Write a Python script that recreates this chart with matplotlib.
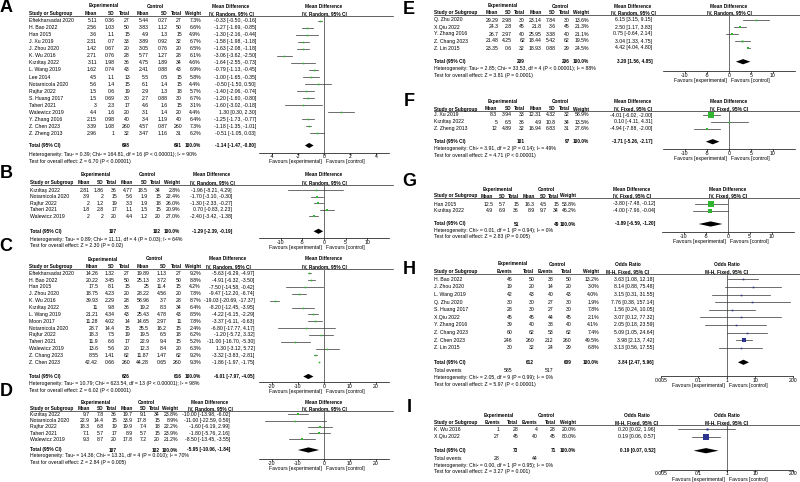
import matplotlib
matplotlib.use("Agg")
import matplotlib.pyplot as plt
from matplotlib.lines import Line2D
from matplotlib.patches import Polygon

# ---- data: (study, exp mean, exp sd, exp n, ctl mean, ctl sd, ctl n, weight %, est, lo, hi)
A_rows = [
    ("Eftekharsadat 2020", 5.11, 0.36, 27, 5.44, 0.27, 27, 7.3, -0.33, -0.50, -0.16),
    ("H. Bao 2022", 2.56, 1.03, 50, 3.83, 1.12, 50, 6.6, -1.27, -1.69, -0.85),
    ("Han 2015", 3.6, 1.1, 15, 4.9, 1.3, 15, 4.9, -1.30, -2.16, -0.44),
    ("J. Xu 2019", 2.31, 0.7, 33, 3.89, 0.92, 32, 6.7, -1.58, -1.98, -1.18),
    ("J. Zhou 2020", 1.42, 0.67, 20, 3.05, 0.76, 20, 6.5, -1.63, -2.08, -1.18),
    ("K. Wu 2016", 2.71, 0.76, 28, 5.77, 1.27, 28, 6.1, -3.06, -3.62, -2.50),
    ("Kızıltaş 2022", 3.11, 1.98, 36, 4.75, 1.89, 34, 4.6, -1.64, -2.55, -0.73),
    ("L. Wang 2019", 1.62, 0.74, 43, 2.41, 0.88, 43, 6.9, -0.79, -1.13, -0.45),
    ("Lee 2014", 4.5, 1.1, 13, 5.5, 0.5, 15, 5.8, -1.00, -1.65, -0.35),
    ("Notarnicola 2020", 5.6, 1.4, 15, 6.1, 1.4, 15, 4.4, -0.50, -1.50, 0.50),
    ("Rajfur 2022", 1.5, 0.6, 19, 2.9, 1.3, 18, 5.7, -1.40, -2.06, -0.74),
    ("S. Huang 2017", 1.5, 0.69, 30, 2.7, 0.88, 30, 6.7, -1.20, -1.60, -0.80),
    ("Taheri 2021", 3, 2.3, 17, 4.6, 1.6, 15, 3.1, -1.60, -3.02, -0.18),
    ("Walewicz 2019", 4.4, 1.6, 20, 3.1, 1.4, 20, 4.4, 1.30, 0.30, 2.30),
    ("Y. Zhang 2016", 2.15, 0.98, 40, 3.4, 1.19, 40, 6.4, -1.25, -1.73, -0.77),
    ("Z. Chen 2023", 3.39, 1.08, 260, 4.57, 0.87, 260, 7.3, -1.18, -1.35, -1.01),
    ("Z. Zheng 2013", 2.96, 1, 32, 3.47, 1.16, 31, 6.2, -0.51, -1.05, 0.03),
]
A_total = (698, 691, -1.14, -1.47, -0.80)
A_het = "Heterogeneity: Tau² = 0.39; Chi² = 164.81, df = 16 (P < 0.00001); I² = 90%"
A_test = "Test for overall effect: Z = 6.70 (P < 0.00001)"

B_rows = [
    ("Kızıltaş 2022", 2.81, 1.86, 36, 4.77, 18.5, 34, 2.8, -1.96, -8.21, 4.29),
    ("Notarnicola 2020", 3.9, 2, 15, 5.6, 1.9, 15, 22.4, -1.70, -3.10, -0.30),
    ("Rajfur 2022", 2, 1.2, 19, 3.3, 1.9, 18, 26.0, -1.30, -2.33, -0.27),
    ("Taheri 2021", 1.8, 2.8, 17, 1.1, 1.5, 15, 20.9, 0.70, -0.83, 2.23),
    ("Walewicz 2019", 2, 2, 20, 4.4, 1.2, 20, 27.0, -2.40, -3.42, -1.38),
]
B_total = (107, 102, -1.29, -2.39, -0.19)
B_het = "Heterogeneity: Tau² = 0.89; Chi² = 11.11, df = 4 (P = 0.03); I² = 64%"
B_test = "Test for overall effect: Z = 2.30 (P = 0.02)"

C_rows = [
    ("Eftekharsadat 2020", 14.26, 1.32, 27, 19.89, 1.13, 27, 9.2, -5.63, -6.29, -4.97),
    ("H. Bao 2022", 20.22, 3.45, 50, 25.13, 3.72, 50, 8.8, -4.91, -6.32, -3.50),
    ("Han 2015", 17.5, 8.1, 15, 25, 11.4, 15, 4.2, -7.50, -14.58, -0.42),
    ("J. Zhou 2020", 18.75, 4.23, 20, 28.22, 4.56, 20, 7.8, -9.47, -12.20, -6.74),
    ("K. Wu 2016", 39.93, 2.29, 28, 58.96, 3.7, 28, 8.7, -19.03, -20.69, -17.37),
    ("Kızıltaş 2022", 11, 9.8, 36, 19.2, 8.3, 34, 6.4, -8.20, -12.45, -3.95),
    ("L. Wang 2019", 21.21, 4.34, 43, 25.43, 4.78, 43, 8.5, -4.22, -6.15, -2.29),
    ("Moon 2017", 11.28, 4.02, 14, 14.65, 2.97, 11, 7.8, -3.37, -6.11, -0.63),
    ("Notarnicola 2020", 28.7, 14.4, 15, 35.5, 16.2, 15, 2.4, -6.80, -17.77, 4.17),
    ("Rajfur 2022", 18.3, 7.5, 19, 19.5, 6.5, 18, 6.2, -1.20, -5.72, 3.32),
    ("Taheri 2021", 11.9, 6.6, 17, 22.9, 9.4, 15, 5.2, -11.00, -16.70, -5.30),
    ("Walewicz 2019", 13.6, 5.6, 20, 12.3, 8.4, 20, 6.3, 1.30, -3.12, 5.72),
    ("Z. Chang 2023", 8.55, 1.41, 62, 11.87, 1.47, 62, 9.2, -3.32, -3.83, -2.81),
    ("Z. Chen 2023", 42.42, 0.66, 260, 44.28, 0.65, 260, 9.3, -1.86, -1.97, -1.75),
]
C_total = (626, 616, -6.01, -7.97, -4.05)
C_het = "Heterogeneity: Tau² = 10.79; Chi² = 623.54, df = 13 (P < 0.00001); I² = 98%"
C_test = "Test for overall effect: Z = 6.02 (P < 0.00001)"

D_rows = [
    ("Kızıltaş 2022", 9.7, 7.8, 36, 19.7, 9.1, 34, 23.8, -10.00, -13.98, -6.02),
    ("Notarnicola 2020", 22.9, 14.4, 15, 33.9, 17.8, 15, 8.9, -11.00, -22.59, 0.59),
    ("Rajfur 2022", 18.3, 6.8, 19, 19.9, 7.4, 18, 22.2, -1.60, -6.19, 2.99),
    ("Taheri 2021", 7.1, 5.7, 17, 8.9, 5.7, 15, 23.9, -1.80, -5.76, 2.16),
    ("Walewicz 2019", 9.3, 8.7, 20, 17.8, 7.2, 20, 21.2, -8.50, -13.45, -3.55),
]
D_total = (107, 102, -5.95, -10.06, -1.84)
D_het = "Heterogeneity: Tau² = 14.36; Chi² = 13.31, df = 4 (P = 0.010); I² = 70%"
D_test = "Test for overall effect: Z = 2.84 (P = 0.005)"

E_rows = [
    ("Q. Zhu 2020", 29.29, 2.98, 30, 23.14, 7.84, 30, 13.6, 6.15, 3.15, 9.15),
    ("X.Qiu 2022", 24.3, 2.8, 45, 21.8, 3.6, 45, 21.3, 2.50, 1.17, 3.83),
    ("Y. Zhang 2016", 26.7, 2.97, 40, 25.95, 3.38, 40, 21.1, 0.75, -0.64, 2.14),
    ("Z. Chang 2023", 21.48, 4.25, 62, 18.44, 5.42, 62, 19.5, 3.04, 1.33, 4.75),
    ("Z. Lin 2015", 23.35, 0.6, 32, 18.93, 0.88, 29, 24.5, 4.42, 4.04, 4.80),
]
E_total = (209, 206, 3.20, 1.56, 4.85)
E_het = "Heterogeneity: Tau² = 2.85; Chi² = 33.53, df = 4 (P < 0.00001); I² = 88%"
E_test = "Test for overall effect: Z = 3.81 (P = 0.0001)"

F_rows = [
    ("J. Xu 2019", 8.3, 3.94, 33, 12.31, 4.32, 32, 58.9, -4.01, -6.02, -2.00),
    ("Kızıltaş 2022", 5, 6.5, 36, 4.9, 10.8, 34, 13.5, 0.10, -4.11, 4.31),
    ("Z. Zheng 2013", 12, 4.89, 32, 16.94, 6.83, 31, 27.6, -4.94, -7.88, -2.00),
]
F_total = (101, 97, -3.71, -5.26, -2.17)
F_het = "Heterogeneity: Chi² = 3.91, df = 2 (P = 0.14); I² = 49%"
F_test = "Test for overall effect: Z = 4.71 (P < 0.00001)"

G_rows = [
    ("Han 2015", 12.5, 5.7, 15, 16.3, 4.5, 15, 53.8, -3.80, -7.48, -0.12),
    ("Kızıltaş 2022", 4.9, 6.9, 36, 8.9, 9.7, 34, 46.2, -4.00, -7.96, -0.04),
]
G_total = (51, 49, -3.89, -6.59, -1.20)
G_het = "Heterogeneity: Chi² = 0.01, df = 1 (P = 0.94); I² = 0%"
G_test = "Test for overall effect: Z = 2.83 (P = 0.005)"

# (study, exp events, exp n, ctl events, ctl n, weight %, OR, lo, hi)
H_rows = [
    ("H. Bao 2022", 46, 50, 38, 50, 13.2, 3.63, 1.08, 12.18),
    ("J. Zhou 2020", 19, 20, 14, 20, 3.0, 8.14, 0.88, 75.48),
    ("L. Wang 2019", 42, 43, 40, 43, 4.0, 3.15, 0.31, 31.55),
    ("Q. Zhu 2020", 30, 30, 27, 30, 1.9, 7.76, 0.38, 157.14),
    ("S. Huang 2017", 28, 30, 27, 30, 7.8, 1.56, 0.24, 10.05),
    ("X.Qiu 2022", 45, 45, 44, 45, 2.1, 3.07, 0.12, 77.32),
    ("Y. Zhang 2016", 39, 40, 38, 40, 4.1, 2.05, 0.18, 23.59),
    ("Z. Chang 2023", 60, 62, 53, 62, 7.4, 5.09, 1.05, 24.64),
    ("Z. Chen 2023", 246, 260, 212, 260, 49.5, 3.98, 2.13, 7.42),
    ("Z. Lin 2015", 30, 32, 24, 29, 6.8, 3.13, 0.56, 17.55),
]
H_total = (612, 609, 3.84, 2.47, 5.96)
H_events = (585, 517)
H_het = "Heterogeneity: Chi² = 2.05, df = 9 (P = 0.99); I² = 0%"
H_test = "Test for overall effect: Z = 5.97 (P < 0.00001)"

I_rows = [
    ("K. Wu 2016", 1, 28, 4, 28, 20.0, 0.20, 0.02, 1.96),
    ("X.Qiu 2022", 27, 45, 40, 45, 80.0, 0.19, 0.06, 0.57),
]
I_total = (73, 71, 0.19, 0.07, 0.52)
I_events = (28, 44)
I_het = "Heterogeneity: Chi² = 0.00, df = 1 (P = 0.95); I² = 0%"
I_test = "Test for overall effect: Z = 3.27 (P = 0.001)"

# ---- layout (pixel positions in the 800x482 picture)
W, H = 800, 482
plt.rcParams["axes.unicode_minus"] = False
FAM = "Liberation Sans"
FS = 3.7      # body text
FSB = 3.45    # bold header text
GREEN = "#2fb52f"
NAVY = "#2b358f"

fig = plt.figure(figsize=(8, 4.82), dpi=100)


def T(x, y, s, ha="left", bold=False, size=None):
    if size is None:
        size = FSB if bold else FS
    fig.text(x / W, 1 - y / H, s, ha=ha, va="center", fontsize=size,
             family=FAM, fontweight="bold" if bold else "normal")


def hline(x0, x1, y):
    fig.add_artist(Line2D([x0 / W, x1 / W], [1 - y / H, 1 - y / H], color="#222222",
                          lw=0.5, transform=fig.transFigure))


def forest(L, ys, est, lo, hi, wt, tot, color, log, hdr):
    x0, x1 = L["x0"], L["x1"]
    zx = (x0 + x1) / 2
    ax = fig.add_axes([x0 / W, 1 - L["axis"] / H, (x1 - x0) / W, (L["axis"] - L["line"] - 1) / H])
    ax.set_ylim(L["axis"], L["line"] + 1)
    if log:
        ax.set_xscale("log")
        ax.set_xlim(0.005, 200)
    else:
        ax.set_xlim(-L["lim"], L["lim"])
    ax.set_xticks(L["ticks"])
    ax.set_xticklabels([f"{t:g}" for t in L["ticks"]], fontsize=FS, family=FAM)
    ax.minorticks_off()
    ax.set_yticks([])
    for s in ["top", "left", "right"]:
        ax.spines[s].set_visible(False)
    ax.spines["bottom"].set_linewidth(0.5)
    ax.tick_params(axis="x", length=1.2, width=0.5, pad=0.2)
    ax.patch.set_visible(False)
    ax.axvline(1 if log else 0, color="#555555", lw=0.6, zorder=0)
    for y, m, a, b, w in zip(ys, est, lo, hi, wt):
        ax.plot([a, b], [y, y], color="#333333", lw=0.5)
        side = min(max(w * 0.1, 1.6), 7.0)
        ax.plot([m], [y], "s", ms=side / 1.389, color=color, mew=0)
    m, a, b = tot[2], tot[3], tot[4]
    yt = L["tot"]
    ax.add_patch(Polygon([(a, yt), (m, yt - 2.6), (b, yt), (m, yt + 2.6)],
                         closed=True, color="black", lw=0))
    T(zx, L["h1"], hdr[0], ha="center", bold=True)
    T(zx, L["h2"], hdr[1], ha="center", bold=True)
    fav = L["axis"] + 9.5
    T(zx - 2, fav, "Favours [experimental]", ha="right")
    T(zx + 2, fav, "Favours [control]", ha="left")


def panel(letter, rows, total, het, test, L, method, events=None):
    c = L["cols"]
    T(L["lx"], L["ly"], letter, ha="center", bold=True, size=13)
    ys = [L["row0"] + i * L["step"] for i in range(len(rows))]
    hline(c[0], L["end"], L["line"])
    T(L["hexp"], L["h1"], "Experimental", ha="center", bold=True)
    T(L["hctl"], L["h1"], "Control", ha="center", bold=True)
    T(c[0], L["h2"], "Study or Subgroup", bold=True)
    if events is None:
        heads = ["Mean", "SD", "Total", "Mean", "SD", "Total", "Weight"]
        title = "Mean Difference"
        color = GREEN
    else:
        heads = ["Events", "Total", "Events", "Total", "Weight"]
        title = "Odds Ratio"
        color = NAVY
    for h, x in zip(heads, c[1:-1]):
        T(x, L["h2"], h, ha="right", bold=True)
    T(L["hest"], L["h1"], title, ha="center", bold=True)
    T(L["hest"], L["h2"], method, ha="center", bold=True)
    for y, r in zip(ys, rows):
        T(c[0], y, r[0])
        vals = r[1:len(heads)]
        for v, x in zip(vals, c[1:len(heads)]):
            T(x, y, f"{v:g}", ha="right")
        w, m, a, b = r[len(heads):]
        T(c[-2], y, f"{w:.1f}%", ha="right")
        T(c[-1], y, f"{m:.2f} [{a:.2f}, {b:.2f}]", ha="right")
    ne, nc, m, a, b = total
    yt = L["tot"]
    T(c[0], yt, "Total (95% CI)", bold=True)
    if events is None:
        T(c[3], yt, str(ne), ha="right", bold=True)
        T(c[6], yt, str(nc), ha="right", bold=True)
    else:
        T(c[2], yt, str(ne), ha="right", bold=True)
        T(c[4], yt, str(nc), ha="right", bold=True)
        T(c[0], L["ev"], "Total events")
        T(c[1], L["ev"], str(events[0]), ha="right")
        T(c[3], L["ev"], str(events[1]), ha="right")
    T(c[-2], yt, "100.0%", ha="right", bold=True)
    T(c[-1], yt, f"{m:.2f} [{a:.2f}, {b:.2f}]", ha="right", bold=True)
    T(c[0], L["het"], het)
    T(c[0], L["test"], test)
    k = len(heads)
    forest(L, ys, [r[k + 1] for r in rows], [r[k + 2] for r in rows],
           [r[k + 3] for r in rows], [r[k] for r in rows], total, color,
           events is not None, (title, method))


left = dict(lx=6, x0=259, x1=389, end=393)
right = dict(lx=409, end=800)

LA = dict(left, ly=8, h1=6, h2=13.5, line=16.3, row0=20.7, step=7.04, tot=145.5, het=154.5,
          test=162, axis=152.5, cols=[29, 97, 115, 130, 149, 168, 182, 201, 256],
          hexp=104, hctl=155, hest=231, lim=5, ticks=[-4, -2, 0, 2, 4])
LB = dict(left, ly=173.5, h1=174.7, h2=182.3, line=184.8, row0=190.3, step=6.45, tot=231.3,
          het=239, test=246, axis=237.7,
          cols=[30.5, 90, 104, 117, 133, 148, 161, 180, 232],
          hexp=96, hctl=147, hest=212, lim=15, ticks=[-10, -5, 0, 5, 10])
LC = dict(left, ly=246.5, h1=259, h2=266.7, line=269, row0=273.3, step=6.85, tot=376.5,
          het=384, test=390.5, axis=382.3,
          cols=[29, 98.3, 115, 130, 149.3, 166.7, 181.7, 201, 254.5],
          hexp=103, hctl=154, hest=228, lim=25, ticks=[-20, -10, 0, 10, 20])
LD = dict(left, ly=392, h1=402.3, h2=408.3, line=410.5, row0=414.3, step=6.25, tot=450,
          het=456, test=462.3, axis=459,
          cols=[30, 90, 104, 117, 133, 147, 160, 178, 230],
          hexp=96, hctl=146, hest=210, lim=25, ticks=[-20, -10, 0, 10, 20])
LE = dict(right, ly=9, h1=6, h2=12.7, line=14.8, row0=20, step=7, tot=61.7, het=69, test=76,
          axis=71, cols=[434.3, 498.3, 512, 525, 542, 556, 570, 589, 652.3],
          hexp=503, hctl=560.7, hest=633, x0=663, x1=795, lim=15, ticks=[-10, -5, 0, 5, 10])
LF = dict(right, ly=102, h1=101.7, h2=109, line=111, row0=115, step=7, tot=141.7, het=148.3,
          test=155, axis=149.3,
          cols=[434.3, 497.3, 512, 525, 542, 556, 570, 589, 652.3],
          hexp=503, hctl=560, hest=633, x0=663, x1=795, lim=15, ticks=[-10, -5, 0, 5, 10])
LG = dict(right, ly=182, h1=190, h2=196, line=198.3, row0=204, step=6.7, tot=224, het=230.7,
          test=236.7, axis=231.7,
          cols=[434.3, 493.3, 506, 519, 535, 547, 559, 576, 655.7],
          hexp=497.3, hctl=546.7, hest=631.7, x0=661.7, x1=793.7, lim=15,
          ticks=[-10, -5, 0, 5, 10])
LH = dict(right, ly=270, h1=264, h2=271.7, line=274, row0=279.3, step=7.6, tot=362.3, ev=370.3,
          het=377, test=384.3, axis=375.7,
          cols=[434.3, 512.7, 534.3, 553.3, 571.7, 599, 654],
          hexp=512.5, hctl=557, hest=628, x0=660.7, x1=792.7, ticks=[0.005, 0.1, 1, 10, 200])
LI = dict(right, ly=408, h1=415.7, h2=422.3, line=424.5, row0=429.3, step=7.4, tot=450.7,
          ev=458.3, het=465, test=471.7, axis=469.5,
          cols=[434.3, 500, 518.3, 537.7, 556, 576, 655],
          hexp=499, hctl=546, hest=636.7, x0=660.7, x1=792.7, ticks=[0.005, 0.1, 1, 10, 200])

panel("A", A_rows, A_total, A_het, A_test, LA, "IV, Random, 95% CI")
panel("B", B_rows, B_total, B_het, B_test, LB, "IV, Random, 95% CI")
panel("C", C_rows, C_total, C_het, C_test, LC, "IV, Random, 95% CI")
panel("D", D_rows, D_total, D_het, D_test, LD, "IV, Random, 95% CI")
panel("E", E_rows, E_total, E_het, E_test, LE, "IV, Random, 95% CI")
panel("F", F_rows, F_total, F_het, F_test, LF, "IV, Fixed, 95% CI")
panel("G", G_rows, G_total, G_het, G_test, LG, "IV, Fixed, 95% CI")
panel("H", H_rows, H_total, H_het, H_test, LH, "M-H, Fixed, 95% CI", events=H_events)
panel("I", I_rows, I_total, I_het, I_test, LI, "M-H, Fixed, 95% CI", events=I_events)

fig.savefig("out.png", dpi=100)
